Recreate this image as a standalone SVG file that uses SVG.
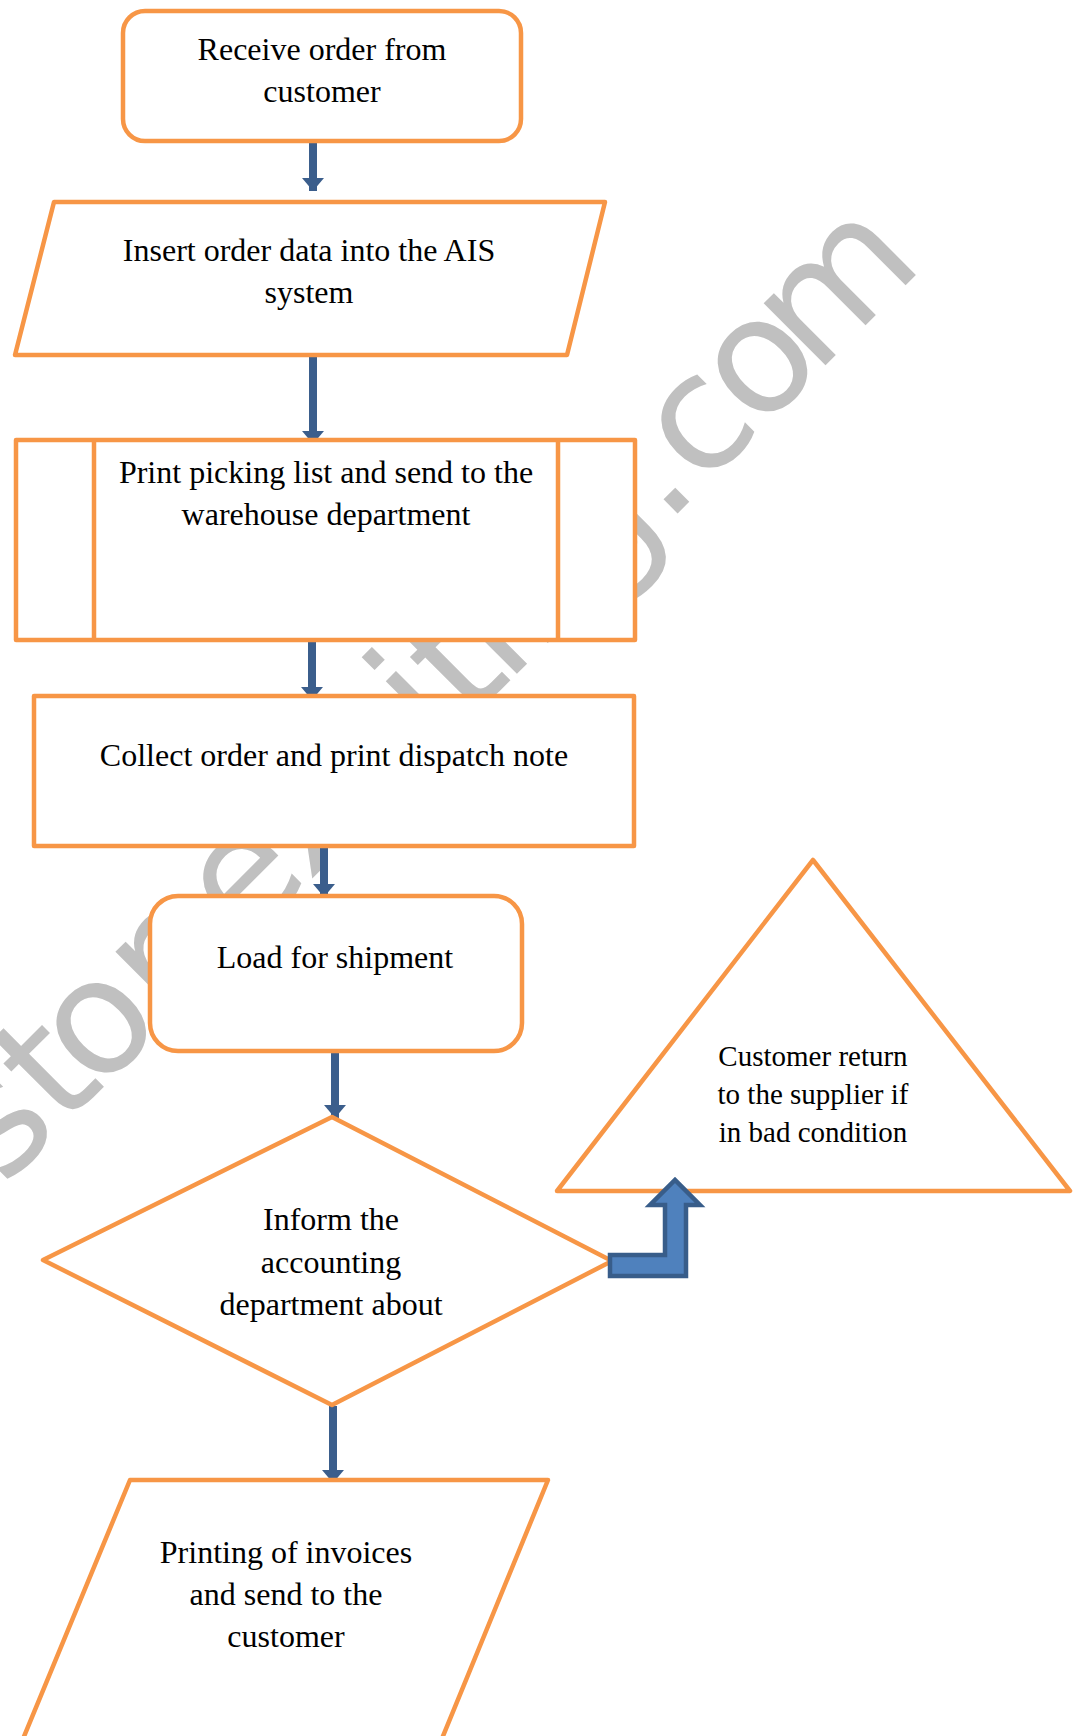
<svg xmlns="http://www.w3.org/2000/svg" width="1078" height="1736" viewBox="0 0 1078 1736">
<defs>
<style>
.shape{fill:#ffffff;stroke:#f79646;stroke-width:4.5;stroke-linejoin:round}
.lbl{font-family:"Liberation Serif","Times New Roman",serif;font-size:32px;fill:#000;text-anchor:middle}
.lbl2{font-family:"Liberation Serif","Times New Roman",serif;font-size:29px;fill:#000;text-anchor:middle}
.conn{stroke:#3b5e8c;stroke-width:8;fill:none}
.wm{font-family:"DejaVu Sans",sans-serif;font-size:160px;fill:#c0c0c0}
</style>
<marker id="ah" markerUnits="userSpaceOnUse" markerWidth="13" markerHeight="22" refX="13" refY="11" orient="auto">
<path d="M0,0 L13,11 L0,22 z" fill="#3b5e8c"/>
</marker>
</defs>
<rect width="1078" height="1736" fill="#ffffff"/>
<g id="watermark">
<text class="wm" transform="rotate(-45)" y="842" x="-837 -754 -704 -606 -498 -405 -310 -224 -179 -126 -82 0 99 150 231 311">storexciting.com</text>
</g>
<g id="connectors">
<line class="conn" x1="313" y1="142" x2="313" y2="191" marker-end="url(#ah)"/>
<line class="conn" x1="313" y1="355" x2="313" y2="444" marker-end="url(#ah)"/>
<line class="conn" x1="312" y1="640" x2="312" y2="700" marker-end="url(#ah)"/>
<line class="conn" x1="324" y1="846" x2="324" y2="897" marker-end="url(#ah)"/>
<line class="conn" x1="335" y1="1050" x2="335" y2="1118" marker-end="url(#ah)"/>
<line class="conn" x1="333" y1="1406" x2="333" y2="1483" marker-end="url(#ah)"/>
</g>
<g id="n1">
<rect class="shape" x="123" y="11" width="398" height="130" rx="22" ry="22"/>
<text class="lbl" x="322" y="60">Receive order from</text>
<text class="lbl" x="322" y="102">customer</text>
</g>
<g id="n2">
<polygon class="shape" points="54,202 605,202 567,355 15,355"/>
<text class="lbl" x="309" y="261">Insert order data into the AIS</text>
<text class="lbl" x="309" y="303">system</text>
</g>
<g id="n3">
<rect class="shape" x="16" y="440" width="619" height="200"/>
<line class="shape" x1="94" y1="440" x2="94" y2="640"/>
<line class="shape" x1="558" y1="440" x2="558" y2="640"/>
<text class="lbl" x="326" y="483">Print picking list and send to the</text>
<text class="lbl" x="326" y="525">warehouse department</text>
</g>
<g id="n4">
<rect class="shape" x="34" y="696" width="600" height="150"/>
<text class="lbl" x="334" y="766">Collect order and print dispatch note</text>
</g>
<g id="n5">
<rect class="shape" x="150" y="896" width="372" height="155" rx="28" ry="28"/>
<text class="lbl" x="335" y="968">Load for shipment</text>
</g>
<g id="n6">
<polygon class="shape" points="332,1117 612,1261 332,1405 43,1260"/>
<text class="lbl" x="331" y="1230">Inform the</text>
<text class="lbl" x="331" y="1273">accounting</text>
<text class="lbl" x="331" y="1315">department about</text>
</g>
<g id="n7">
<polygon class="shape" points="130,1480 548,1480 425,1780 6,1780"/>
<text class="lbl" x="286" y="1563">Printing of invoices</text>
<text class="lbl" x="286" y="1605">and send to the</text>
<text class="lbl" x="286" y="1647">customer</text>
</g>
<g id="n8">
<polygon class="shape" points="813,860 1070,1191 557,1191"/>
<text class="lbl2" x="813" y="1066">Customer return</text>
<text class="lbl2" x="813" y="1104">to the supplier if</text>
<text class="lbl2" x="813" y="1142">in bad condition</text>
</g>
<g id="bent-arrow">
<polygon points="610,1276 610,1255 665,1255 665,1205 650,1205 675,1180 700,1205 686,1205 686,1276" fill="#4f81bd" stroke="#385d8a" stroke-width="4.5" stroke-linejoin="miter"/>
</g>
</svg>
